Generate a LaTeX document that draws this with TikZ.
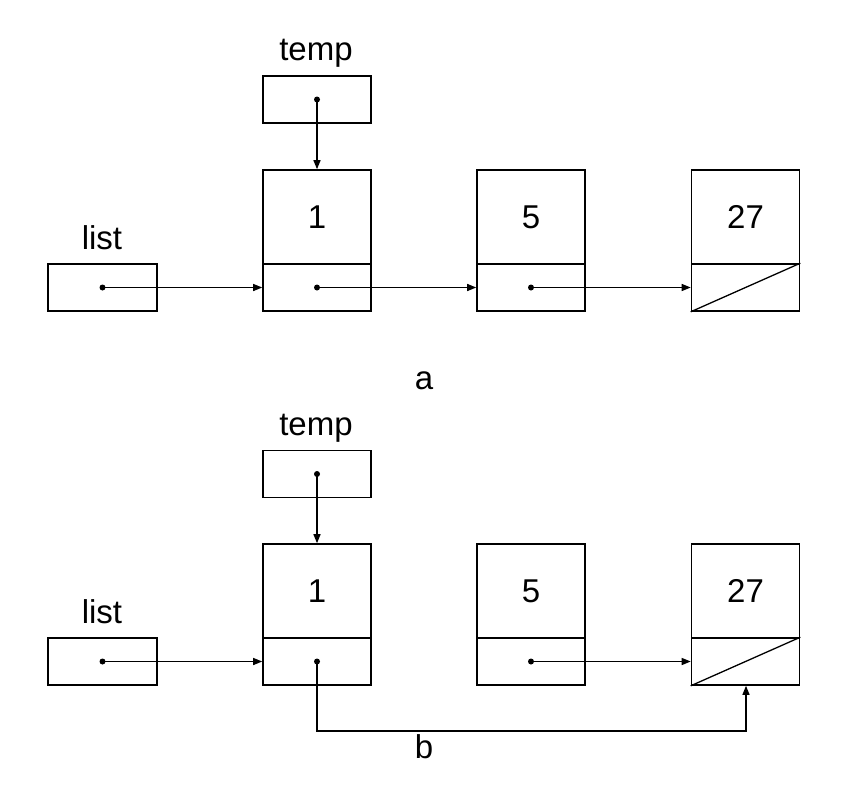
\documentclass[tikz,border=0pt]{standalone}
\usepackage{fontspec}
\setmainfont{Liberation Sans}
\usetikzlibrary{arrows.meta}
\begin{document}
\begin{tikzpicture}[x=1pt,y=-1pt,
  line width=1.6pt,
  cell/.style={draw, rectangle, inner sep=0pt, minimum width=108pt},
  datacell/.style={cell, minimum height=94pt, font=\fontsize{33}{38}\selectfont},
  ptrcell/.style={cell, minimum height=47pt},
  varbox/.style={cell, minimum height=47pt},
  lbl/.style={font=\fontsize{33}{38}\selectfont, inner sep=0pt},
  ptr/.style={-{Triangle[length=9pt,width=7pt]}, line width=1.3pt},
  dot/.style={fill, circle, inner sep=0pt, minimum size=6pt}
]
\useasboundingbox (0,0) rectangle (848,798);

% ---------- part a ----------
\node[lbl] (tempAlbl) at (316,53) {temp};
\node[varbox] (tempA) at (317,99.5) {};
\node[lbl] (listAlbl) at (102,238) {list};
\node[varbox, minimum width=109pt] (listA) at (102.5,287.5) {};

\node[datacell] (d1A) at (317,217) {1};
\node[ptrcell]  (p1A) at (317,287.5) {};
\node[datacell] (d5A) at (531,217) {5};
\node[ptrcell]  (p5A) at (531,287.5) {};
\node[datacell] (d27A) at (745.5,217) {27};
\node[ptrcell]  (p27A) at (745.5,287.5) {};
\draw[line width=1.3pt] (p27A.south west) -- (p27A.north east);

\node[dot] (tempAdot) at (tempA.center) {};
\node[dot] (listAdot) at (listA.center) {};
\node[dot] (p1Adot) at (p1A.center) {};
\node[dot] (p5Adot) at (p5A.center) {};

\draw[ptr] (tempAdot.center) -- (d1A.north);
\draw[ptr] (listAdot.center) -- (p1A.west);
\draw[ptr] (p1Adot.center) -- (p5A.west);
\draw[ptr] (p5Adot.center) -- (p27A.west);

\node[lbl] (capA) at (424,381) {a};

% ---------- part b ----------
\node[lbl] (tempBlbl) at (316,428) {temp};
\node[varbox] (tempB) at (317,474) {};
\node[lbl] (listBlbl) at (102,612) {list};
\node[varbox, minimum width=109pt] (listB) at (102.5,661.5) {};

\node[datacell] (d1B) at (317,591) {1};
\node[ptrcell]  (p1B) at (317,661.5) {};
\node[datacell] (d5B) at (531,591) {5};
\node[ptrcell]  (p5B) at (531,661.5) {};
\node[datacell] (d27B) at (745.5,591) {27};
\node[ptrcell]  (p27B) at (745.5,661.5) {};
\draw[line width=1.3pt] (p27B.south west) -- (p27B.north east);

\node[dot] (tempBdot) at (tempB.center) {};
\node[dot] (listBdot) at (listB.center) {};
\node[dot] (p1Bdot) at (p1B.center) {};
\node[dot] (p5Bdot) at (p5B.center) {};

\draw[ptr] (tempBdot.center) -- (d1B.north);
\draw[ptr] (listBdot.center) -- (p1B.west);
\draw[ptr] (p5Bdot.center) -- (p27B.west);
\coordinate (bend) at (746,731);
\draw[ptr] (p1Bdot.center) |- (bend) -- (bend |- p27B.south);

\node[lbl] (capB) at (424,747) {b};
\end{tikzpicture}
\end{document}
